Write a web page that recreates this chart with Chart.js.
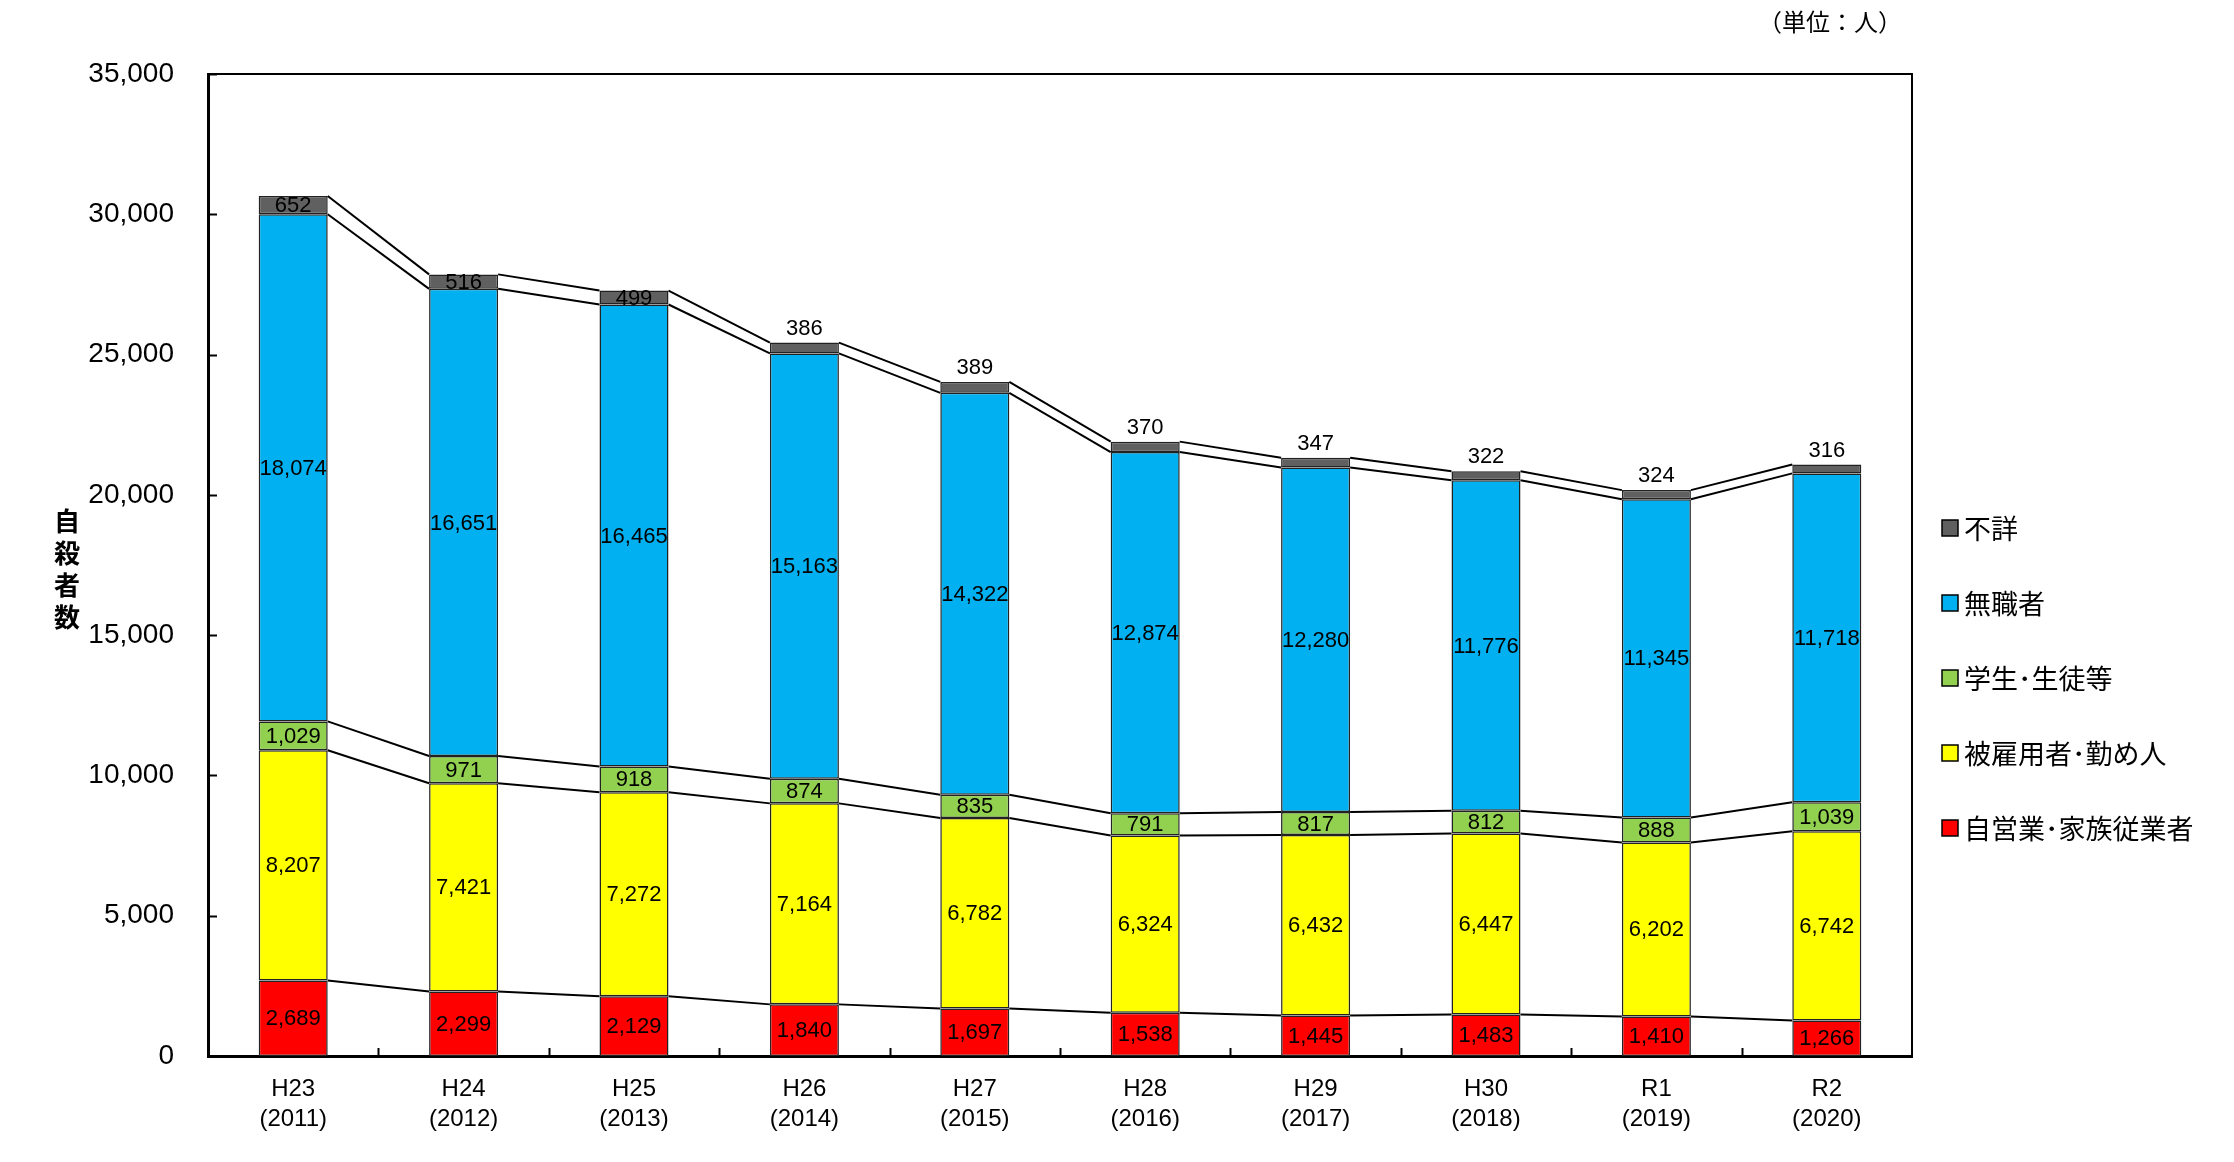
<!DOCTYPE html>
<html>
<head>
<meta charset="utf-8">
<script src="https://cdn.jsdelivr.net/npm/chart.js@4.4.1/dist/chart.umd.min.js"></script>
<style>
  html, body { margin: 0; padding: 0; background: #fff; }
  #wrap { width: 2234px; height: 1162px; }
</style>
</head>
<body>
<div id="wrap"><canvas id="suicideChart"></canvas></div>
<script>
// data
const years = [["H23", "(2011)"], ["H24", "(2012)"], ["H25", "(2013)"], ["H26", "(2014)"], ["H27", "(2015)"],
  ["H28", "(2016)"], ["H29", "(2017)"], ["H30", "(2018)"], ["R1", "(2019)"], ["R2", "(2020)"]];
const selfEmployed = [2689, 2299, 2129, 1840, 1697, 1538, 1445, 1483, 1410, 1266];
const employees = [8207, 7421, 7272, 7164, 6782, 6324, 6432, 6447, 6202, 6742];
const students = [1029, 971, 918, 874, 835, 791, 817, 812, 888, 1039];
const unemployed = [18074, 16651, 16465, 15163, 14322, 12874, 12280, 11776, 11345, 11718];
const unknown = [652, 516, 499, 386, 389, 370, 347, 322, 324, 316];
const yTicks = [0, 5000, 10000, 15000, 20000, 25000, 30000, 35000];

const NUM_FONT = "'Liberation Sans', Arial, sans-serif";
const JP_FONT = "'Noto Sans CJK JP', sans-serif";

const fmt = v => v.toLocaleString("en-US");

// number labels, series lines, tick marks, frame, legend, titles
const decorations = {
  id: "decorations",
  afterDatasetsDraw(chart) {
    const ctx = chart.ctx;
    const metas = chart.data.datasets.map((d, i) => chart.getDatasetMeta(i));

    // series lines joining segment tops
    ctx.save();
    ctx.strokeStyle = "#000";
    ctx.lineWidth = 2;
    metas.forEach(meta => {
      for (let i = 0; i < meta.data.length - 1; i++) {
        const a = meta.data[i], b = meta.data[i + 1];
        ctx.beginPath();
        ctx.moveTo(a.x + a.width / 2, a.y);
        ctx.lineTo(b.x - b.width / 2, b.y);
        ctx.stroke();
      }
    });
    ctx.restore();

    // value labels
    ctx.save();
    ctx.fillStyle = "#000";
    ctx.font = "22px " + NUM_FONT;
    ctx.textAlign = "center";
    metas.forEach((meta, di) => {
      const ds = chart.data.datasets[di];
      meta.data.forEach((bar, i) => {
        const v = ds.data[i];
        if (ds.outsideFrom !== undefined && i >= ds.outsideFrom) {
          ctx.textBaseline = "bottom";
          ctx.fillText(fmt(v), bar.x, bar.y - 3);
        } else {
          ctx.textBaseline = "middle";
          ctx.fillText(fmt(v), bar.x, (bar.y + bar.base) / 2 + 1);
        }
      });
    });
    ctx.restore();
  },
  afterDraw(chart) {
    const ctx = chart.ctx;
    const area = chart.chartArea;
    const y = chart.scales.y;

    ctx.save();
    ctx.strokeStyle = "#000";
    // top and right frame
    ctx.lineWidth = 2;
    ctx.beginPath();
    ctx.moveTo(area.left, area.top);
    ctx.lineTo(area.right, area.top);
    ctx.lineTo(area.right, area.bottom);
    ctx.stroke();
    // inward tick marks
    yTicks.forEach(t => {
      const py = Math.round(y.getPixelForValue(t)) + 0.5;
      ctx.beginPath();
      ctx.moveTo(area.left, py);
      ctx.lineTo(area.left + 9, py);
      ctx.stroke();
    });
    const step = (area.right - area.left) / years.length;
    for (let i = 1; i < years.length; i++) {
      const px = Math.round(area.left + step * i) + 0.5;
      ctx.beginPath();
      ctx.moveTo(px, area.bottom);
      ctx.lineTo(px, area.bottom - 8);
      ctx.stroke();
    }

    // y axis title, stacked characters
    ctx.fillStyle = "#000";
    ctx.font = "bold 26px " + JP_FONT;
    ctx.textAlign = "center";
    ctx.textBaseline = "middle";
    ["自", "殺", "者", "数"].forEach((c, i) => ctx.fillText(c, 67, 521 + i * 32));

    // unit note
    ctx.font = "24px " + JP_FONT;
    ctx.textAlign = "left";
    ctx.fillText("（単位：人）", 1758, 22);

    // legend (top series first)
    ctx.font = "27px " + JP_FONT;
    const items = chart.data.datasets.slice().reverse();
    items.forEach((ds, i) => {
      const cy = 528 + i * 75;
      ctx.fillStyle = ds.backgroundColor;
      ctx.fillRect(1942, cy - 8, 16, 16);
      ctx.lineWidth = 1.5;
      ctx.strokeStyle = "#000";
      ctx.strokeRect(1942, cy - 8, 16, 16);
      ctx.fillStyle = "#000";
      ctx.textBaseline = "middle";
      ctx.fillText(ds.label, 1964, cy + 1);
    });
    ctx.restore();
  }
};

const barStyle = { borderColor: "#222", borderWidth: 1.5, borderSkipped: false, barPercentage: 0.405, categoryPercentage: 1 };

new Chart(document.getElementById("suicideChart"), {
  type: "bar",
  data: {
    labels: years,
    datasets: [
      { label: "自営業･家族従業者", data: selfEmployed, backgroundColor: "#FF0000", ...barStyle },
      { label: "被雇用者･勤め人", data: employees, backgroundColor: "#FFFF00", ...barStyle },
      { label: "学生･生徒等", data: students, backgroundColor: "#92D050", ...barStyle },
      { label: "無職者", data: unemployed, backgroundColor: "#00B0F0", ...barStyle },
      { label: "不詳", data: unknown, backgroundColor: "#606060", outsideFrom: 3, ...barStyle }
    ]
  },
  options: {
    responsive: true,
    maintainAspectRatio: false,
    animation: false,
    layout: { padding: { left: 0, right: 322, top: 74, bottom: 0 } },
    plugins: {
      legend: { display: false },
      tooltip: { enabled: false }
    },
    scales: {
      x: {
        stacked: true,
        grid: { display: false },
        border: { display: true, color: "#000", width: 3 },
        ticks: {
          color: "#000",
          padding: 10,
          maxRotation: 0,
          font: { family: NUM_FONT, size: 24, lineHeight: 1.25 }
        },
        afterFit(scale) { scale.height = 106; }
      },
      y: {
        stacked: true,
        min: 0,
        max: 35000,
        grid: { display: false },
        border: { display: true, color: "#000", width: 3 },
        ticks: {
          stepSize: 5000,
          color: "#000",
          padding: 26,
          font: { family: NUM_FONT, size: 28 },
          callback: v => fmt(v)
        },
        afterFit(scale) { scale.width = 208; }
      }
    }
  },
  plugins: [decorations]
});
</script>
</body>
</html>
